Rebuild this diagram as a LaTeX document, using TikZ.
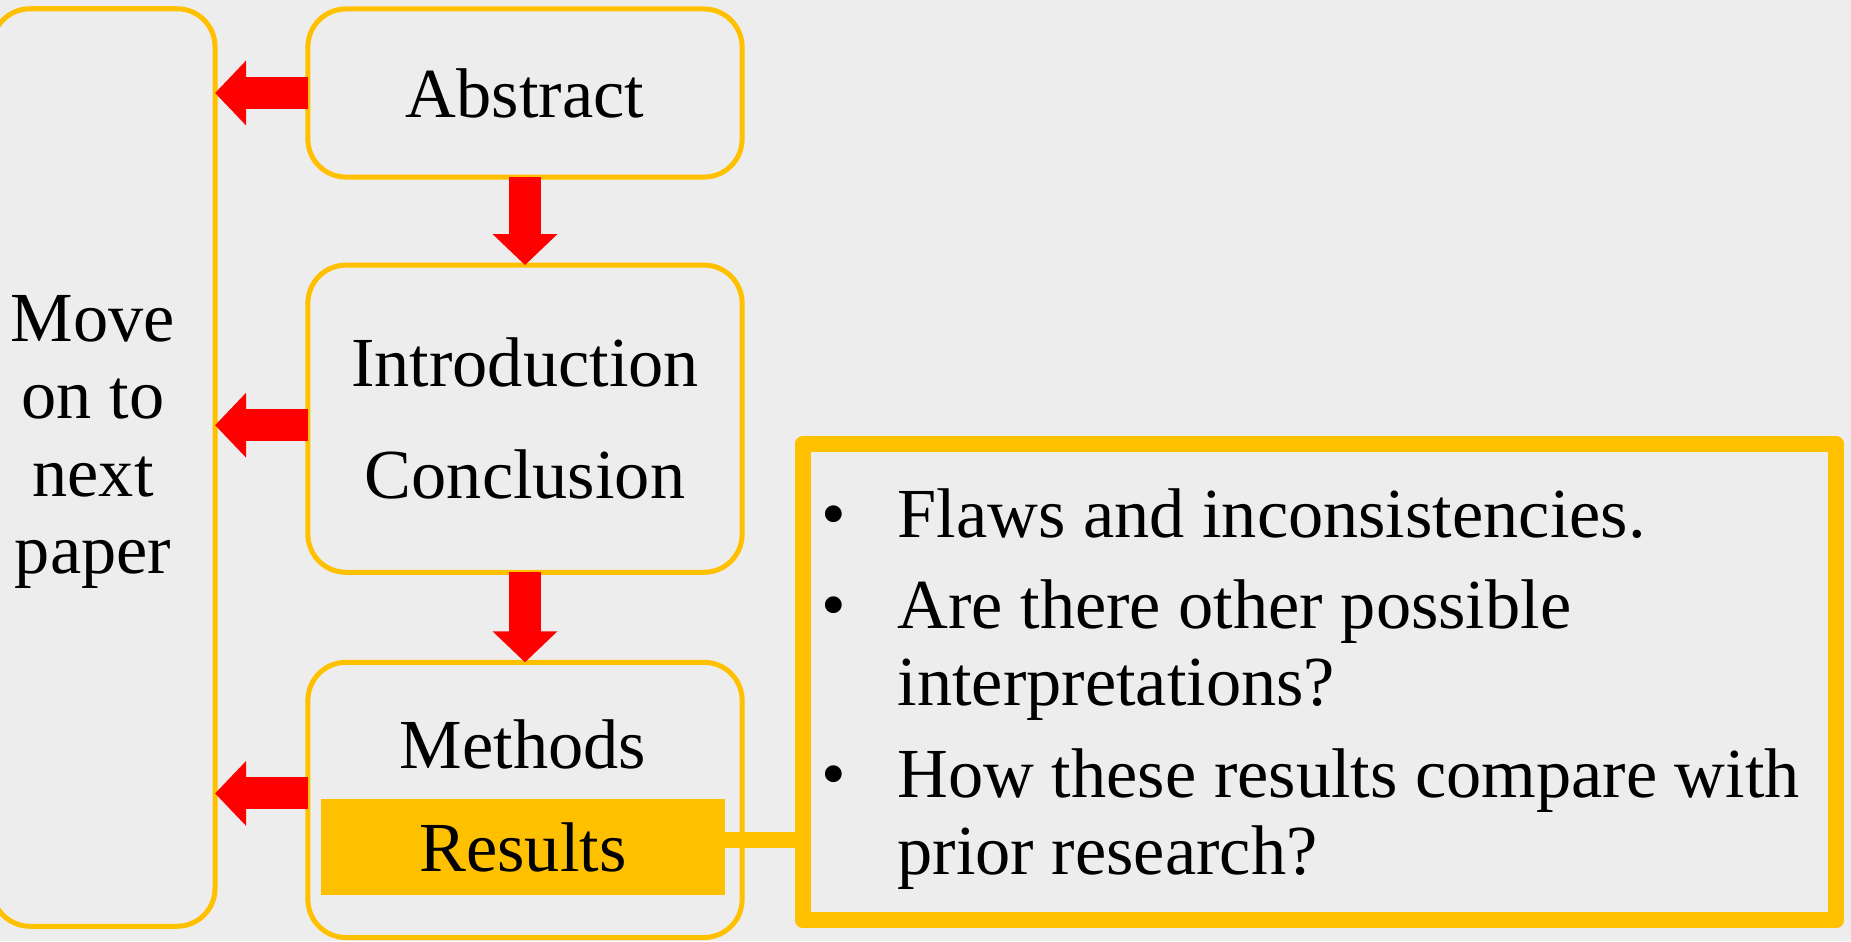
\documentclass[tikz,border=0pt]{standalone}
\usepackage{fontspec}
\setmainfont{Liberation Serif}
\usetikzlibrary{positioning,arrows.meta}
\definecolor{gold}{HTML}{FFC000}
\definecolor{paper}{HTML}{EDEDED}
\begin{document}
\begin{tikzpicture}[
    x=0.01cm, y=-0.01cm,
    node distance=0.88cm,
    every node/.style={font=\fontsize{20}{22}\selectfont, inner sep=0pt, outer sep=0pt},
    stagebox/.style={draw=gold, line width=0.05cm, rounded corners=0.38cm, minimum width=4.34cm},
    bigarrow/.style={draw=red, line width=0.32cm, -{Triangle[width=0.63cm, length=0.31cm]}},
    link/.style={draw=gold, line width=0.16cm}
]
    \fill[paper] (0,0) rectangle (1851,941);
    \useasboundingbox (0,0) rectangle (1851,941);

    \node (next) [draw=gold, line width=0.05cm, rounded corners=0.38cm, minimum width=2.23cm, minimum height=9.17cm] at (103.5,467.5) {};
    \node (nexttext) [align=center] at (93,442) {Move\\on to\\next\\paper};

    \node (abstract) [stagebox, minimum height=1.68cm] at (525,93) {Abstract};
    \node (intro) [stagebox, minimum height=3.07cm, align=center, below=of abstract] {Introduction\\[9.9pt]Conclusion};
    \node (methods) [stagebox, minimum height=2.75cm, below=0.90cm of intro] {};
    \node (methodstext) at (523,744) {Methods};
    \node (results) [fill=gold, minimum width=4.04cm, minimum height=0.96cm] at (523,847) {Results};

    \node (critique) [draw=gold, line width=0.16cm, line join=round, minimum width=10.33cm, minimum height=4.76cm] at (1319.5,682) {};
    \node (points) [anchor=north west] at (821,483) {%
        \begin{tabular}{@{}l@{\hspace{0.52cm}}l@{}}
            \textbullet & Flaws and inconsistencies.\\[4pt]
            \textbullet & Are there other possible\\
                        & interpretations?\\[4pt]
            \textbullet & How these results compare with\\
                        & prior research?
        \end{tabular}};

    \draw [bigarrow] (abstract) -- (intro);
    \draw [bigarrow] (intro) -- (methods);
    \draw [bigarrow] (abstract.west) -- (abstract.west -| next.east);
    \draw [bigarrow] ([yshift=-0.065cm]intro.west) -- ([yshift=-0.065cm]intro.west -| next.east);
    \draw [bigarrow] ([yshift=0.065cm]methods.west) -- ([yshift=0.065cm]methods.west -| next.east);
    \draw [link] ([yshift=0.07cm]results.east) -- ([yshift=0.07cm]results.east -| critique.west);
\end{tikzpicture}
\end{document}
